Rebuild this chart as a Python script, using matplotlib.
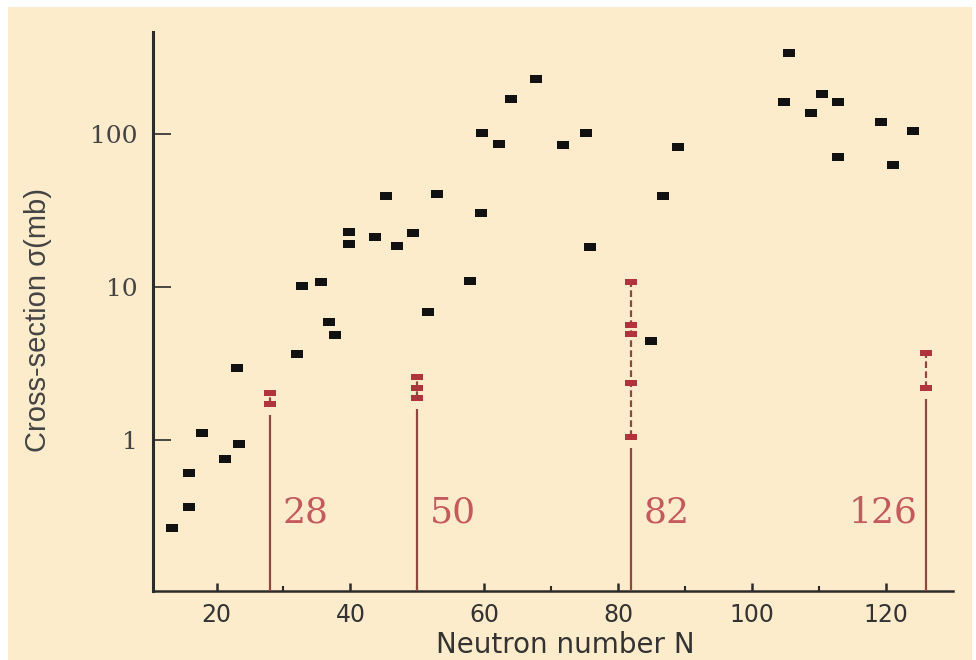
import matplotlib.pyplot as plt
from matplotlib.patches import Rectangle

# Datos (N, seccion eficaz en mb)
N = [13.3, 15.9, 15.9, 17.8, 21.2, 23.3, 23.0, 32.0, 32.7, 35.6, 36.8, 37.7,
     39.8, 39.8, 43.7, 45.3, 47.0, 49.3, 51.6, 53.0, 57.9, 59.5, 59.7, 62.2,
     64.0, 67.8, 71.7, 75.2, 75.8, 84.9, 86.7, 89.0, 104.8, 105.6, 108.9,
     110.5, 112.8, 112.9, 119.3, 121.1, 124.1]
sigma = [0.267, 0.366, 0.609, 1.11, 0.752, 0.942, 2.95, 3.64, 10.1, 10.7, 5.89,
         4.84, 22.7, 19.0, 21.1, 39.1, 18.4, 22.4, 6.84, 40.2, 10.9, 30.3, 100.6,
         85.3, 168, 226, 84.0, 100.6, 18.2, 4.42, 39.1, 81.5, 160, 334, 136,
         181, 160, 70.2, 119, 62.2, 104]

# Numeros magicos y sus puntos (rojos)
magicos = [28, 50, 82, 126]
sigma_magicos = [
    [2.02, 1.72],
    [2.59, 2.17, 1.87],
    [10.8, 5.6, 4.9, 2.35, 1.05],
    [3.70, 2.17],
]

fondo = '#fdeccb'
rojo_linea = '#8c4a3f'
rojo_punto = '#b0343c'
rojo_texto = '#c55a5e'

fig = plt.figure(figsize=(9.76, 6.6), dpi=100, facecolor='white')
fig.patches.append(Rectangle((8 / 976, 0), 964 / 976, 653 / 660,
                             transform=fig.transFigure, facecolor=fondo,
                             edgecolor='none', zorder=-10))
ax = fig.add_axes([153 / 976, 1 - 591 / 660, 800 / 976, 559 / 660])
ax.set_facecolor('none')

# marcador rectangular (mas ancho que alto, como en la figura)
rect_negro = [(-1, -0.62), (1, -0.62), (1, 0.62), (-1, 0.62), (-1, -0.62)]
rect_rojo = [(-1, -0.55), (1, -0.55), (1, 0.55), (-1, 0.55), (-1, -0.55)]

ax.set_yscale('log')
ax.set_xlim(10.5, 130.06)
ax.set_ylim(0.1035, 460)

ax.plot(N, sigma, linestyle='none', marker=rect_negro, markersize=8.5,
        color='#111111', markeredgewidth=0, zorder=5)

for n, vals in zip(magicos, sigma_magicos):
    bajo = min(vals)
    alto = max(vals)
    # linea continua hasta poco debajo del punto mas bajo
    ax.plot([n, n], [0.1035, bajo * 0.85], color=rojo_linea, lw=1.6,
            solid_capstyle='butt', zorder=3)
    ax.plot([n, n], [bajo, alto], color=rojo_linea, lw=1.6,
            linestyle=(0, (3, 1.5)), zorder=3)
    ax.plot([n] * len(vals), vals, linestyle='none', marker=rect_rojo,
            markersize=8, color=rojo_punto, markeredgewidth=0, zorder=4)
    if n == 126:
        ax.annotate(str(n), (n, 0.29), xytext=(-6, 0), textcoords='offset points',
                    ha='right', va='baseline', fontsize=26, color=rojo_texto,
                    family='DejaVu Serif')
    else:
        ax.annotate(str(n), (n, 0.29), xytext=(9, 0), textcoords='offset points',
                    ha='left', va='baseline', fontsize=26, color=rojo_texto,
                    family='DejaVu Serif')

# ejes
ax.spines['top'].set_visible(False)
ax.spines['right'].set_visible(False)
ax.spines['left'].set_linewidth(2.2)
ax.spines['bottom'].set_linewidth(1.8)
ax.spines['left'].set_color('#2b2b2b')
ax.spines['bottom'].set_color('#2b2b2b')

ax.set_xticks([20, 40, 60, 80, 100, 120])
ax.set_xticks([30, 50, 70, 90, 110], minor=True)
ax.tick_params(axis='x', which='major', direction='in', length=6, width=1.8,
               color='#2b2b2b', pad=9, labelsize=17, labelcolor='#333333')
ax.tick_params(axis='x', which='minor', direction='in', length=3.5, width=1.5,
               color='#2b2b2b')
for t in ax.get_xticklabels():
    t.set_family('DejaVu Sans')

ax.set_yticks([1, 10, 100])
ax.set_yticklabels(['1', '10', '100'])
ax.yaxis.set_minor_locator(plt.NullLocator())
ax.tick_params(axis='y', which='major', direction='in', length=13, width=1.2,
               color='#2b2b2b', pad=11, labelsize=18, labelcolor='#444444')
for t in ax.get_yticklabels():
    t.set_family('DejaVu Serif')

ax.set_xlabel('Neutron number N', fontsize=20, color='#333333',
              family='DejaVu Sans')
ax.xaxis.set_label_coords(0.515, -0.0966)
ax.xaxis.label.set_va('center')

ax.set_ylabel('Cross-section σ(mb)', fontsize=21, color='#444444',
              family='Liberation Sans')
ax.yaxis.set_label_coords(-0.144, 0.485)
ax.yaxis.label.set_va('center')
ax.yaxis.label.set_ha('center')

plt.savefig('out.png', dpi=100, facecolor='white')
